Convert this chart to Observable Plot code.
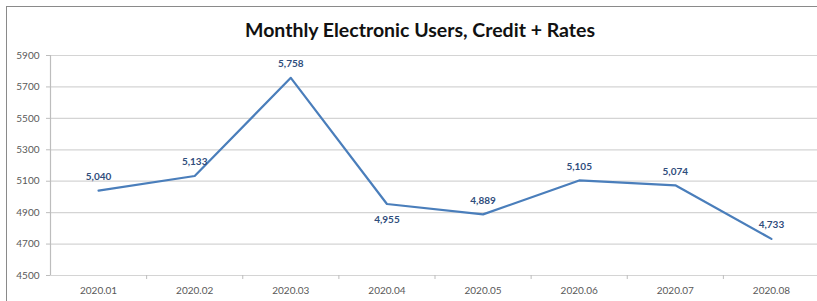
<!DOCTYPE html>
<html>
<head>
<meta charset="utf-8">
<script src="https://cdn.jsdelivr.net/npm/d3@7"></script>
<script src="https://cdn.jsdelivr.net/npm/@observablehq/plot@0.6"></script>
<style>
  html, body { margin: 0; padding: 0; background: #fff; }
  #wrap { position: relative; width: 817px; height: 301px; overflow: hidden; font-family: Lato, "Open Sans", sans-serif; }
  #frame { position: absolute; left: 6px; top: 6px; width: 840px; height: 330px; border: 1.5px solid #8a8a8a; box-sizing: border-box; }
  #title { position: absolute; left: 0; top: 18px; width: 840px; text-align: center; font-weight: bold; font-size: 19.5px; color: #111; letter-spacing: 0px; }
  #chart { position: absolute; left: 0; top: 42px; }
</style>
</head>
<body>
<div id="wrap">
  <div id="frame"></div>
  <div id="title">Monthly Electronic Users, Credit + Rates</div>
  <div id="chart"></div>
</div>
<script>
const months = ["2020.01", "2020.02", "2020.03", "2020.04", "2020.05", "2020.06", "2020.07", "2020.08"];
const users = [5040, 5133, 5758, 4955, 4889, 5105, 5074, 4733];
const yTicks = [4500, 4700, 4900, 5100, 5300, 5500, 5700, 5900];
const labelsBelow = ["2020.04"];

const data = months.map((m, i) => ({month: m, idx: i + 1, value: users[i], below: labelsBelow.includes(m)}));
const bounds = d3.range(1.5, months.length, 1);
const fmt = d3.format(",");

const plot = Plot.plot({
  width: 817,
  height: 259,
  marginLeft: 50,
  marginRight: 0,
  marginTop: 13,
  marginBottom: 26,
  style: {fontFamily: "Lato, 'Open Sans', sans-serif", fontSize: "10px", color: "#595959", background: "transparent"},
  x: {type: "linear", domain: [0.5, months.length + 0.5], range: [50, 819]},
  y: {domain: [yTicks[0], yTicks[yTicks.length - 1]]},
  marks: [
    Plot.ruleY(yTicks, {stroke: "#d4d4d4", strokeWidth: 1.2}),
    Plot.ruleX([0.5], {y1: yTicks[0], y2: yTicks[yTicks.length - 1], stroke: "#bdbdbd", strokeWidth: 1.2}),
    Plot.axisY({ticks: yTicks, tickSize: 4, tickPadding: 7, tickFormat: d => String(d), stroke: "#bdbdbd", label: null, fill: "#595959"}),
    Plot.axisX({ticks: bounds, tickSize: 4, tickFormat: () => "", stroke: "#bdbdbd", label: null}),
    Plot.axisX({ticks: data.map(d => d.idx), tickSize: 0, tickPadding: 11, tickFormat: i => months[i - 1], label: null, fill: "#595959"}),
    Plot.line(data, {x: "idx", y: "value", stroke: "#4a7ebb", strokeWidth: 2.2}),
    Plot.text(data.filter(d => !d.below), {x: "idx", y: "value", text: d => fmt(d.value), dy: -14, fill: "#2f4d7c", fontWeight: "bold", fontSize: 10}),
    Plot.text(data.filter(d => d.below), {x: "idx", y: "value", text: d => fmt(d.value), dy: 16, fill: "#2f4d7c", fontWeight: "bold", fontSize: 10})
  ]
});
document.getElementById("chart").appendChild(plot);
</script>
</body>
</html>
